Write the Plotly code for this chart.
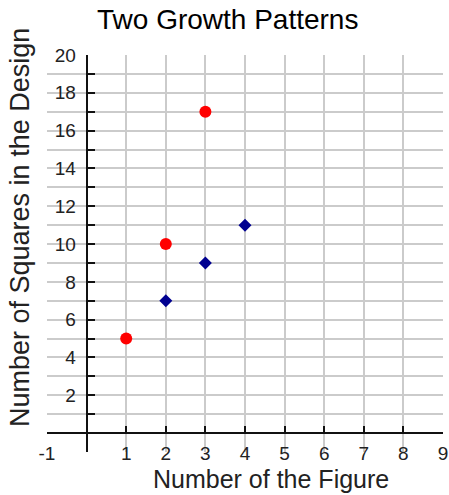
import plotly.graph_objects as go

# Data
red_x = [1, 2, 3]
red_y = [5, 10, 17]
blue_x = [2, 3, 4]
blue_y = [7, 9, 11]

x_tick_vals = [-1, 0, 1, 2, 3, 4, 5, 6, 7, 8, 9]
x_tick_text = ["-1", "", "1", "2", "3", "4", "5", "6", "7", "8", "9"]
y_tick_vals = list(range(-1, 21))
y_tick_text = [str(v) if (v > 0 and v % 2 == 0) else "" for v in y_tick_vals]

title_text = "Two Growth Patterns"
x_title = "Number of the Figure"
y_title = "Number of Squares in the Design"

FONT = "Liberation Sans, Arial, sans-serif"
GRID = "#cbcbcb"

L, R, T, B = 47, 6, 55, 43
W, H = 449, 495
plot_w = W - L - R
plot_h = H - T - B


def px_to_paper(px, py):
    return (px - L) / plot_w, (H - py - B) / plot_h


fig = go.Figure()
fig.add_trace(go.Scatter(x=red_x, y=red_y, mode="markers",
                         marker=dict(symbol="circle", size=12, color="#ff0000"),
                         showlegend=False, cliponaxis=False))
fig.add_trace(go.Scatter(x=blue_x, y=blue_y, mode="markers",
                         marker=dict(symbol="diamond", size=10, color="#000090"),
                         showlegend=False, cliponaxis=False))

tx, ty = px_to_paper(227, 20)
xx, xy = px_to_paper(271, 479)
yx, yy = px_to_paper(20, 228)

fig.update_layout(
    width=W, height=H,
    margin=dict(l=L, r=R, t=T, b=B, autoexpand=False),
    paper_bgcolor="white", plot_bgcolor="white",
    font=dict(family=FONT, color="#111111"),
    showlegend=False,
    xaxis=dict(range=[-1, 9], domain=[0, 1], anchor="free", position=1/21,
               automargin=False,
               showline=True, linecolor="#111111", linewidth=2,
               ticks="inside", ticklen=6, tickwidth=2, tickcolor="#111111",
               tickvals=x_tick_vals, ticktext=x_tick_text,
               tickfont=dict(size=19, family=FONT, color="#222222"),
               ticklabelstandoff=3,
               showgrid=True, gridcolor=GRID, gridwidth=2, zeroline=False,
               fixedrange=True),
    yaxis=dict(range=[-1, 20], domain=[0, 1], anchor="free", position=0.1,
               automargin=False,
               showline=True, linecolor="#111111", linewidth=2,
               ticks="inside", ticklen=7, tickwidth=2, tickcolor="#111111",
               tickvals=y_tick_vals, ticktext=y_tick_text,
               tickfont=dict(size=19, family=FONT, color="#222222"),
               ticklabelstandoff=6,
               showgrid=True, gridcolor=GRID, gridwidth=2, zeroline=False,
               fixedrange=True),
    annotations=[
        dict(text=title_text, x=tx, y=ty, xref="paper", yref="paper",
             xanchor="center", yanchor="middle",
             showarrow=False, font=dict(size=28, family=FONT, color="#000000")),
        dict(text=x_title, x=xx, y=xy, xref="paper", yref="paper",
             xanchor="center", yanchor="middle",
             showarrow=False, font=dict(size=25, family=FONT, color="#222222")),
        dict(text=y_title, x=yx, y=yy, xref="paper", yref="paper",
             xanchor="center", yanchor="middle",
             showarrow=False, textangle=-90,
             font=dict(size=27, family=FONT, color="#222222")),
    ],
)

fig.write_html("out.html",
               config={"displayModeBar": False},
               post_script="document.body.style.margin='0';document.body.style.overflow='hidden';")
